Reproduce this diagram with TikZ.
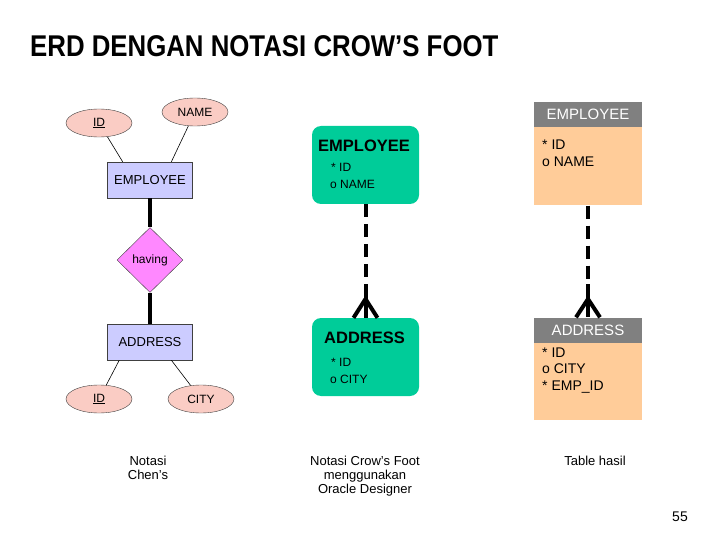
\documentclass[tikz,border=0pt]{standalone}
\usepackage{fontspec}
\setmainfont{Liberation Sans}
\usetikzlibrary{positioning,calc,shapes.geometric}
\definecolor{chenpink}{RGB}{250,204,196}
\definecolor{chenblue}{RGB}{204,204,255}
\definecolor{chenviolet}{RGB}{255,136,255}
\definecolor{oraclegreen}{RGB}{0,204,153}
\definecolor{headgrey}{RGB}{128,128,128}
\definecolor{tableorange}{RGB}{255,204,153}
\newcommand{\fsz}[1]{\fontsize{#1}{#1}\selectfont}
\tikzset{
  % Base styles
  erd base/.style={
    x=1pt, y=-1pt,
    every node/.style={font=\fsz{12}},
  },
  % Chen notation
  chen attr/.style={ellipse, draw=black!75, fill=chenpink, minimum width=66pt, minimum height=28pt, inner sep=0pt},
  chen entity/.style={rectangle, draw=black!75, fill=chenblue, minimum width=85pt, minimum height=36pt, inner sep=0pt, font=\fsz{13}},
  chen rel/.style={diamond, draw=black!75, fill=chenviolet, minimum width=66pt, minimum height=65pt, inner sep=0pt},
  attr line/.style={draw=black, line width=0.6pt},
  rel line/.style={line width=4pt},
  % Oracle Designer boxes
  oracle box/.style={rectangle, rounded corners=9pt, fill=oraclegreen, minimum width=107pt, minimum height=78pt, inner sep=0pt},
  oracle title/.style={anchor=base west, inner sep=0pt, font=\bfseries\fsz{16.5}},
  oracle attr/.style={anchor=base west, inner sep=0pt, font=\fsz{12}},
  % Result tables
  table head/.style={rectangle, fill=headgrey, text=white, minimum width=108pt, minimum height=25pt, inner sep=0pt, font=\fsz{15}},
  table body/.style={rectangle, fill=tableorange, minimum width=108pt, inner sep=0pt},
  table attr/.style={anchor=base west, inner sep=0pt, font=\fsz{14}},
  % Crow's foot links
  crow line/.style={line width=4pt},
  crow dash/.style={line width=4pt, dash pattern=on 13pt off 7pt},
  caption/.style={anchor=north, align=center, inner sep=0pt, font=\fsz{13}},
}

\begin{document}
\begin{tikzpicture}[erd base]
  \useasboundingbox (0,0) rectangle (720,540);
  \node[anchor=base west, inner sep=0pt, font=\bfseries\fsz{30}] (title) at (30,57)
    {\scalebox{0.86}[1]{ERD DENGAN NOTASI CROW'S FOOT}};

  % Chen
  \node[chen attr] (id1) at (99,123) {\underline{ID}};
  \node[chen attr] (name1) at (195,112) {NAME};
  \node[chen entity] (emp1) at (150,180) {EMPLOYEE};
  \node[chen rel] (having) at (150,260) {having};
  \node[chen entity] (addr1) at (150,342) {ADDRESS};
  \node[chen attr] (id2) at (99,399) {\underline{ID}};
  \node[chen attr] (city1) at (201,399) {CITY};
  \draw[attr line] (id1) -- ($(emp1.north west)!0.18!(emp1.north east)$);
  \draw[attr line] (name1) -- ($(emp1.north west)!0.75!(emp1.north east)$);
  \draw[attr line] ($(addr1.south west)!0.14!(addr1.south east)$) -- (id2);
  \draw[attr line] ($(addr1.south west)!0.75!(addr1.south east)$) -- (city1);
  \draw[rel line] (emp1) -- (having);
  \draw[rel line] (having) -- (addr1);

  % Oracle Designer
  \node[oracle box] (emp2) at (365.5,165) {};
  \node[oracle title] (emp2t) at (318,152) {EMPLOYEE};
  \node[oracle attr] (emp2a) at (331,172) {* ID};
  \node[oracle attr] (emp2b) at (330,189) {o NAME};
  \node[oracle box] (addr2) at (365.5,357) {};
  \node[oracle title] (addr2t) at (324,343) {ADDRESS};
  \node[oracle attr] (addr2a) at (331,366) {* ID};
  \node[oracle attr] (addr2b) at (330,383) {o CITY};
  \coordinate (mid2) at (emp2.south |- 0,284);
  \coordinate (apex2) at (emp2.south |- 0,299);
  \draw[crow dash] (emp2.south) -- (mid2);
  \draw[crow line] (mid2) -- (addr2.north);
  \draw[crow line] (apex2) -- ($(addr2.north)+(-12,0)$);
  \draw[crow line] (apex2) -- ($(addr2.north)+(12,0)$);

  % Tables
  \node[table head] (emp3) at (588,114.5) {EMPLOYEE};
  \node[table body, minimum height=78pt, below=0pt of emp3] (emp3b) {};
  \node[table attr] (emp3a) at (542,150) {* ID};
  \node[table attr] (emp3c) at (542,167) {o NAME};
  \node[table head] (addr3) at (588,330) {ADDRESS};
  \node[table body, minimum height=77pt, below=0pt of addr3] (addr3b) {};
  \node[table attr] (addr3a) at (542,357) {* ID};
  \node[table attr] (addr3c) at (542,373) {o CITY};
  \node[table attr] (addr3d) at (542,390) {* EMP\_ID};
  \coordinate (mid3) at (emp3b.south |- 0,284);
  \coordinate (apex3) at (emp3b.south |- 0,299);
  \draw[crow dash] (emp3b.south) -- (mid3);
  \draw[crow line] (mid3) -- (addr3.north);
  \draw[crow line] (apex3) -- ($(addr3.north)+(-12,0)$);
  \draw[crow line] (apex3) -- ($(addr3.north)+(12,0)$);

  % captions
  \node[caption] (cap1) at (148,456) {Notasi\\[1pt]Chen's};
  \node[caption] (cap2) at (365,456) {Notasi Crow's Foot\\[1pt]menggunakan\\[1pt]Oracle Designer};
  \node[caption] (cap3) at (595,456) {Table hasil};
  \node[caption, anchor=base, font=\fsz{14}] (page) at (680,521) {55};
\end{tikzpicture}
\end{document}
